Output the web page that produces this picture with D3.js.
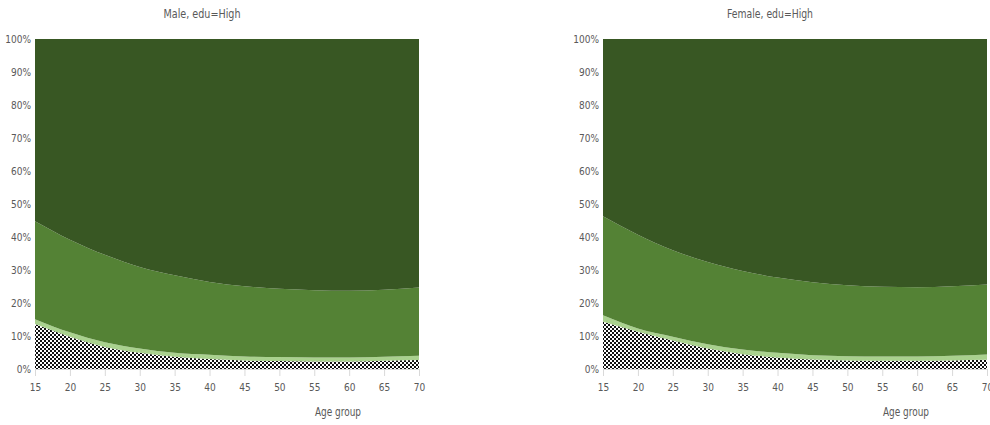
<!DOCTYPE html>
<html>
<head>
<meta charset="utf-8">
<script src="https://cdn.jsdelivr.net/npm/d3@7"></script>
<style>
  body { margin: 0; background: #fff; }
  text { font-family: "DejaVu Sans Condensed", "DejaVu Sans", sans-serif; font-stretch: condensed; fill: #595959; }
</style>
</head>
<body>
<div id="chart"></div>
<script>
var svgWidth = 990;
var svgHeight = 425;

// age groups on the x axis
var ages = [15, 20, 25, 30, 35, 40, 45, 50, 55, 60, 65, 70];
var yTicks = [0, 0.1, 0.2, 0.3, 0.4, 0.5, 0.6, 0.7, 0.8, 0.9, 1];
var seriesKeys = ["hatch", "light", "medium", "dark"];

// shares (%) for each band, bottom to top; dark band is the remainder to 100
var maleHatch  = [13.6, 9.8, 6.7, 4.9, 3.7, 3.0, 2.6, 2.4, 2.3, 2.3, 2.5, 2.7];
var maleLight  = [1.5, 1.3, 1.4, 1.3, 1.2, 1.3, 1.2, 1.2, 1.2, 1.2, 1.2, 1.3];
var maleMedium = [29.7, 28.1, 26.5, 24.7, 23.5, 22.1, 21.3, 20.7, 20.4, 20.2, 20.3, 20.7];

var femaleHatch  = [14.3, 11.3, 8.6, 6.2, 4.5, 3.5, 2.9, 2.6, 2.5, 2.5, 2.6, 2.8];
var femaleLight  = [2.0, 1.0, 1.2, 1.3, 1.4, 1.4, 1.3, 1.3, 1.3, 1.3, 1.4, 1.6];
var femaleMedium = [30.0, 28.4, 26.2, 24.9, 23.8, 22.8, 22.1, 21.5, 21.1, 21.0, 21.1, 21.2];

var colors = { hatch: "url(#hatch)", light: "#a9d18e", medium: "#548235", dark: "#385723" };

var svg = d3.select("#chart")
  .append("svg")
  .attr("width", svgWidth)
  .attr("height", svgHeight);

// fine black/white checker hatch
var pattern = svg.append("defs").append("pattern")
  .attr("id", "hatch")
  .attr("patternUnits", "userSpaceOnUse")
  .attr("width", 4)
  .attr("height", 4);
pattern.append("rect").attr("width", 4).attr("height", 4).attr("fill", "#fff");
pattern.append("rect").attr("width", 2).attr("height", 2).attr("fill", "#111");
pattern.append("rect").attr("x", 2).attr("y", 2).attr("width", 2).attr("height", 2).attr("fill", "#111");

function buildRows(hatch, light, medium) {
  return ages.map(function(a, i) {
    return {
      age: a,
      hatch: hatch[i] / 100,
      light: light[i] / 100,
      medium: medium[i] / 100,
      dark: 1 - (hatch[i] + light[i] + medium[i]) / 100
    };
  });
}

function drawPanel(left, title, titleX, titleLen, rows) {
  var width = 384;
  var top = 39, bottom = 369;

  var g = svg.append("g");

  var x = d3.scaleLinear().domain([15, 70]).range([left, left + width]);
  var y = d3.scaleLinear().domain([0, 1]).range([bottom, top]);

  var stacked = d3.stack().keys(seriesKeys)(rows);

  var area = d3.area()
    .curve(d3.curveMonotoneX)
    .x(function(d) { return x(d.data.age); })
    .y0(function(d) { return y(d[0]); })
    .y1(function(d) { return y(d[1]); });

  g.selectAll(".band")
    .data(stacked)
    .enter()
    .append("path")
    .attr("class", "band")
    .attr("d", area)
    .attr("fill", function(d) { return colors[d.key]; });

  // y axis labels only
  var yAxis = g.append("g")
    .attr("transform", "translate(" + left + ",0)")
    .call(d3.axisLeft(y).tickValues(yTicks).tickFormat(d3.format(".0%")).tickSize(0).tickPadding(4));
  yAxis.select(".domain").remove();
  yAxis.selectAll("text").attr("font-size", "10px").style("fill", "#595959");

  var xAxis = g.append("g")
    .attr("transform", "translate(0," + bottom + ")")
    .call(d3.axisBottom(x).tickValues(ages).tickSize(7).tickSizeOuter(0).tickPadding(8));
  xAxis.select(".domain").attr("stroke", "#d9d9d9");
  xAxis.selectAll(".tick line").attr("stroke", "#d9d9d9");
  xAxis.selectAll("text").attr("font-size", "10px").style("fill", "#595959");

  g.append("text")
    .attr("x", titleX)
    .attr("y", 18)
    .attr("text-anchor", "middle")
    .attr("font-size", "12px")
    .attr("textLength", titleLen)
    .attr("lengthAdjust", "spacingAndGlyphs")
    .text(title);

  g.append("text")
    .attr("x", left + 303)
    .attr("y", 416)
    .attr("text-anchor", "middle")
    .attr("font-size", "12px")
    .attr("textLength", 46)
    .attr("lengthAdjust", "spacingAndGlyphs")
    .text("Age group");
}

drawPanel(35, "Male, edu=High", 202, 77, buildRows(maleHatch, maleLight, maleMedium));
drawPanel(603, "Female, edu=High", 770, 86, buildRows(femaleHatch, femaleLight, femaleMedium));
</script>
</body>
</html>
